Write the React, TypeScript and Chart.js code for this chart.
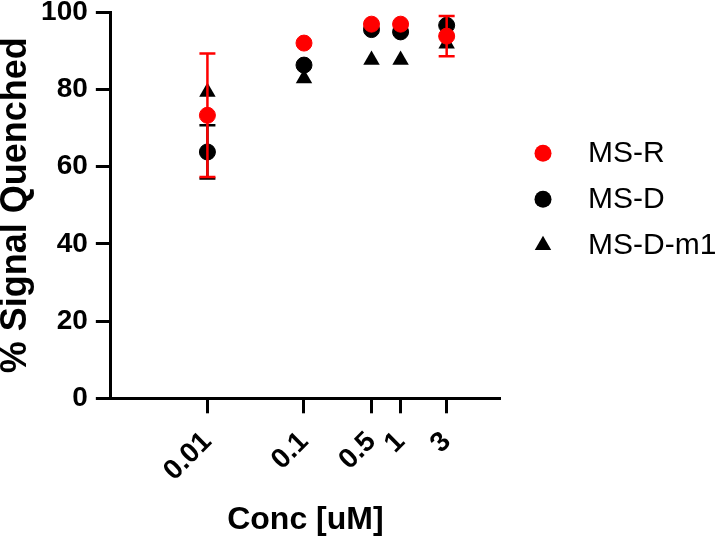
import React, { useEffect, useRef } from 'react';
import { Chart, registerables } from 'chart.js';

Chart.register(...registerables);

// ---- data ----
const concentrations = [0.01, 0.1, 0.5, 1, 3];
const xTickValues = [0.01, 0.1, 0.5, 1, 3];
const xTickLabels = ['0.01', '0.1', '0.5', '1', '3'];
const seriesNames = ['MS-R', 'MS-D', 'MS-D-m1'];
const msR = [73.3, 92.0, 96.9, 96.9, 93.8];
const msRError = [16.0, 0, 0, 0, 5.2];
const msD = [63.8, 86.3, 95.5, 94.9, 96.6];
const msDError = [6.9, 0, 0, 0, 0];
const msDm1 = [79.3, 82.8, 87.6, 87.6, 91.8];

const FONT = '"Liberation Sans", Arial, sans-serif';
const RED = '#ff0000';
const BLACK = '#000000';

const errorBarPlugin = {
  id: 'errorBars',
  afterDatasetDraw(chart: any, args: any) {
    const ds = chart.data.datasets[args.index];
    const errs: number[] | undefined = ds.errors;
    if (!errs) return;
    const xs = chart.scales.x;
    const ys = chart.scales.y;
    const ctx = chart.ctx;
    ctx.save();
    ctx.strokeStyle = ds.errorColor;
    ctx.lineWidth = 2.5;
    ds.data.forEach((pt: any, i: number) => {
      const e = errs[i];
      if (!e) return;
      const px = xs.getPixelForValue(pt.x);
      const top = ys.getPixelForValue(pt.y + e);
      const bot = ys.getPixelForValue(pt.y - e);
      ctx.beginPath();
      ctx.moveTo(px, top);
      ctx.lineTo(px, bot);
      ctx.moveTo(px - 8, top);
      ctx.lineTo(px + 8, top);
      ctx.moveTo(px - 8, bot);
      ctx.lineTo(px + 8, bot);
      ctx.stroke();
    });
    ctx.restore();
  },
};

const sideLegendPlugin = {
  id: 'sideLegend',
  afterDraw(chart: any) {
    const ctx = chart.ctx;
    const area = chart.chartArea;
    const markerX = area.right + 43;
    const textX = area.right + 88;
    ctx.save();
    chart.data.datasets.forEach((ds: any, i: number) => {
      const y = area.top + 141 + i * 46;
      ctx.fillStyle = ds.backgroundColor;
      ctx.beginPath();
      if (ds.pointStyle === 'triangle') {
        const r = 9.5;
        ctx.moveTo(markerX, y - r);
        ctx.lineTo(markerX + r * Math.sin((2 * Math.PI) / 3), y - r * Math.cos((2 * Math.PI) / 3));
        ctx.lineTo(markerX + r * Math.sin((4 * Math.PI) / 3), y - r * Math.cos((4 * Math.PI) / 3));
        ctx.closePath();
      } else {
        ctx.arc(markerX, y, 8.5, 0, Math.PI * 2);
      }
      ctx.fill();
      ctx.fillStyle = BLACK;
      ctx.font = `30px ${FONT}`;
      ctx.textBaseline = 'middle';
      ctx.textAlign = 'left';
      ctx.fillText(ds.label, textX, y + 1);
    });
    ctx.restore();
  },
};

export default function App() {
  const ref = useRef<HTMLCanvasElement | null>(null);
  useEffect(() => {
    if (!ref.current) return;
    const toPts = (arr: number[]) => arr.map((v, i) => ({ x: concentrations[i], y: v }));
    const chart = new Chart(ref.current, {
      type: 'scatter',
      data: {
        datasets: [
          {
            label: seriesNames[0],
            data: toPts(msR),
            backgroundColor: RED,
            borderColor: RED,
            pointStyle: 'circle',
            pointRadius: 8,
            borderWidth: 1,
            errors: msRError,
            errorColor: RED,
          } as any,
          {
            label: seriesNames[1],
            data: toPts(msD),
            backgroundColor: BLACK,
            borderColor: BLACK,
            pointStyle: 'circle',
            pointRadius: 8,
            borderWidth: 1,
            errors: msDError,
            errorColor: BLACK,
          } as any,
          {
            label: seriesNames[2],
            data: toPts(msDm1),
            backgroundColor: BLACK,
            borderColor: BLACK,
            pointStyle: 'triangle',
            pointRadius: 9.5,
            borderWidth: 0,
          } as any,
        ],
      },
      options: {
        responsive: false,
        animation: false,
        devicePixelRatio: 1,
        layout: { padding: { top: 0, right: 220, bottom: 1, left: 0 } },
        plugins: {
          legend: { display: false },
          tooltip: { enabled: false },
        },
        scales: {
          x: {
            type: 'logarithmic',
            min: 0.001,
            max: 10.7,
            afterBuildTicks: (axis: any) => {
              axis.ticks = xTickValues.map((v) => ({ value: v }));
            },
            ticks: {
              autoSkip: false,
              minRotation: 45,
              maxRotation: 45,
              padding: 12,
              color: BLACK,
              font: { family: FONT, size: 28, weight: 'bold' },
              callback: (value: any) => {
                const idx = xTickValues.indexOf(Number(value));
                return idx >= 0 ? xTickLabels[idx] : '';
              },
            },
            grid: {
              display: true,
              drawOnChartArea: false,
              drawTicks: true,
              tickLength: 15,
              tickWidth: 3,
              tickColor: BLACK,
            },
            border: { display: true, color: BLACK, width: 3 },
            title: {
              display: true,
              text: 'Conc [uM]',
              color: BLACK,
              font: { family: FONT, size: 32, weight: 'bold', lineHeight: 1.2 },
              padding: { top: 1, bottom: 0 },
            },
          },
          y: {
            min: 0,
            max: 100,
            ticks: {
              stepSize: 20,
              padding: 8,
              color: BLACK,
              font: { family: FONT, size: 28, weight: 'bold', lineHeight: 0.3 },
            },
            grid: {
              display: true,
              drawOnChartArea: false,
              drawTicks: true,
              tickLength: 15,
              tickWidth: 3,
              tickColor: BLACK,
            },
            border: { display: true, color: BLACK, width: 3 },
            title: {
              display: true,
              text: '% Signal Quenched',
              color: BLACK,
              font: { family: FONT, size: 36, weight: 'bold', lineHeight: 0.92 },
              padding: { top: 0, bottom: 0 },
            },
          },
        },
      } as any,
      plugins: [errorBarPlugin, sideLegendPlugin],
    });
    return () => chart.destroy();
  }, []);
  return (
    <div style={{ position: 'fixed', left: 0, top: 0, width: 720, height: 540, background: '#fff' }}>
      <canvas ref={ref} width={720} height={540} style={{ display: 'block' }} />
    </div>
  );
}
